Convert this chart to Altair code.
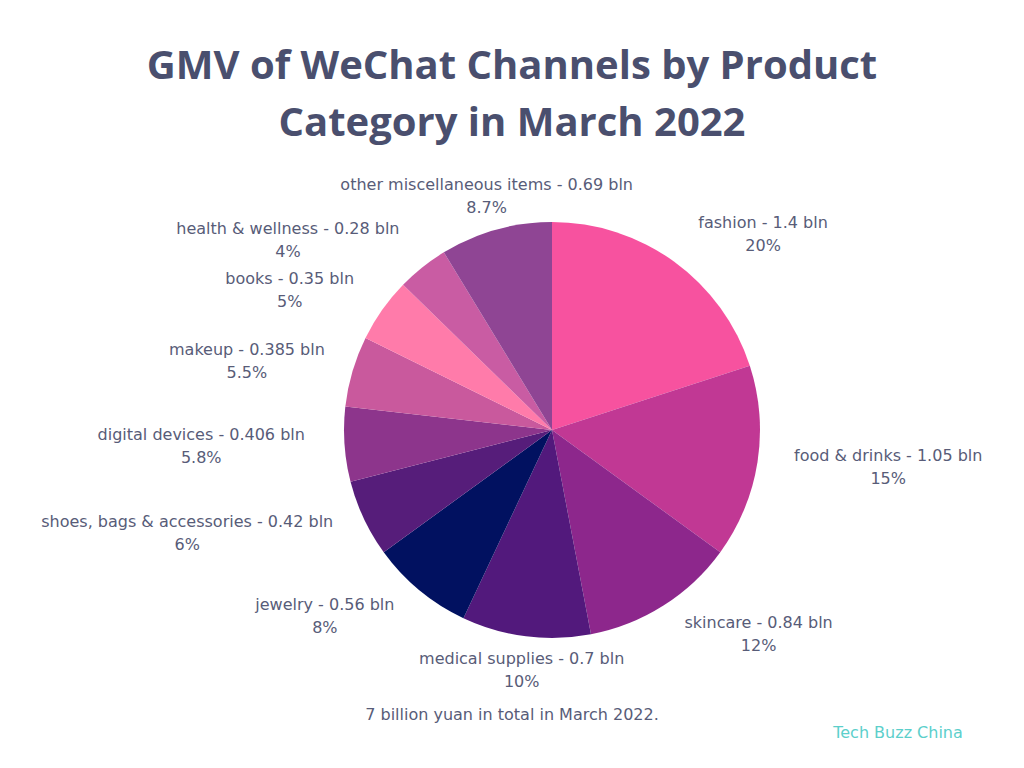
import altair as alt
import pandas as pd

categories = ["fashion", "food & drinks", "skincare", "medical supplies", "jewelry",
              "shoes, bags & accessories", "digital devices", "makeup", "books",
              "health & wellness", "other miscellaneous items"]
gmv_bln = [1.4, 1.05, 0.84, 0.7, 0.56, 0.42, 0.406, 0.385, 0.35, 0.28, 0.69]
share_pct = [20, 15, 12, 10, 8, 6, 5.8, 5.5, 5, 4, 8.7]
colors = ["#F7529F", "#C13894", "#8D278C", "#52197C", "#011160", "#561D7A",
          "#8D358C", "#C9599D", "#FF7BAA", "#C95CA3", "#8F4594"]

df = pd.DataFrame({
    "order": list(range(len(categories))),
    "category": categories,
    "gmv": gmv_bln,
    "pct": share_pct,
    "l1": [f"{c} - {v:g} bln" for c, v in zip(categories, gmv_bln)],
    "l2": [f"{p:g}%" for p in share_pct],
})

W, P_TOP = 1008, 150
H = 752 - P_TOP
CX, CY = 544, 272          # pie centre inside the plot area
R = 208                    # pie radius
RL = 242                   # label anchor radius
K = 8.1                    # approx. px per character
LH = 11.5                  # half line spacing

TEXT_COLOR = "#585C78"
LABEL_FONT = "DejaVu Sans"
LABEL_SIZE = 16

base = alt.Chart(df)

pie = base.mark_arc(outerRadius=R).encode(
    theta=alt.Theta("pct:Q", stack=True),
    order=alt.Order("order:Q"),
    color=alt.Color("category:N", scale=alt.Scale(domain=categories, range=colors), legend=None),
    x=alt.value(CX),
    y=alt.value(CY),
)

lab = base.transform_window(
    cum="sum(pct)", sort=[alt.SortField("order")], frame=[None, 0]
).transform_calculate(
    ang="(datum.cum - datum.pct/2) / 100 * 2 * PI"
).transform_calculate(
    ax=f"{CX} + {RL} * sin(datum.ang)",
    ay=f"{CY} - {RL} * cos(datum.ang)",
    hw=f"max(length(datum.l1), length(datum.l2)) * {K} / 2",
    side="sin(datum.ang) > 0.3 ? 1 : (sin(datum.ang) < -0.3 ? -1 : 0)",
).transform_calculate(
    bx="datum.ax + datum.side * datum.hw",
    y1=f"datum.ay - {LH}",
    y2=f"datum.ay + {LH}",
)

text_style = dict(font=LABEL_FONT, fontSize=LABEL_SIZE, color=TEXT_COLOR,
                  align="center", baseline="middle")

line1 = lab.mark_text(**text_style).encode(
    x=alt.X("bx:Q", scale=None), y=alt.Y("y1:Q", scale=None), text="l1:N")
line2 = lab.mark_text(**text_style).encode(
    x=alt.X("bx:Q", scale=None), y=alt.Y("y2:Q", scale=None), text="l2:N")

note_df = pd.DataFrame({"t": ["7 billion yuan in total in March 2022."]})
note = alt.Chart(note_df).mark_text(**text_style).encode(
    x=alt.value(504), y=alt.value(557), text="t:N")

brand_df = pd.DataFrame({"t": ["Tech Buzz China"]})
brand = alt.Chart(brand_df).mark_text(font=LABEL_FONT, fontSize=LABEL_SIZE, color="#5CCFCB",
                                      align="center", baseline="middle").encode(
    x=alt.value(890), y=alt.value(575), text="t:N")

chart = alt.layer(pie, line1, line2, note, brand).properties(
    width=W, height=H,
    autosize=alt.AutoSizeParams(type="none"),
    padding={"left": 0, "top": P_TOP, "right": 0, "bottom": 0},
    background="white",
    title=alt.TitleParams(
        text=["GMV of WeChat Channels by Product", "Category in March 2022"],
        font="Open Sans", fontSize=40, fontWeight="bold", color="#4A4F6E",
        anchor="middle", lineHeight=57, offset=-18, baseline="alphabetic",
    ),
).configure_view(stroke=None)

chart.save("out.html", embed_options={"renderer": "svg", "actions": False})
